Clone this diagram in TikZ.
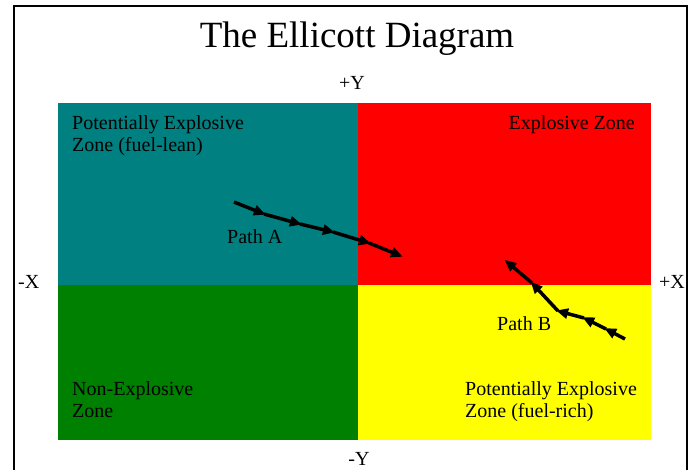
\documentclass[tikz,border=0pt]{standalone}
\usepackage{fontspec}
\setmainfont{Liberation Serif}
\usetikzlibrary{arrows.meta}
\definecolor{teal}{HTML}{008080}
\definecolor{zred}{HTML}{FF0000}
\definecolor{zgreen}{HTML}{008000}
\definecolor{zyellow}{HTML}{FFFF00}
\tikzset{
  lbl/.style={inner sep=0pt, font=\fontsize{20}{23}\selectfont, align=left},
  axis/.style={inner sep=0pt, font=\fontsize{20}{23}\selectfont},
  pathseg/.style={line width=3.5pt, -{Triangle[length=12pt,width=10pt]}, shorten >=-2pt},
}
\begin{document}
\begin{tikzpicture}[x=1pt,y=-1pt]
\useasboundingbox (0,0) rectangle (693,470);
% frame
\draw[line width=2.5pt] (14,472) -- (14,6) -- (687,6) -- (687,472);
% quadrants
\fill[teal] (58,103) rectangle (358,285);
\fill[zred] (358,103) rectangle (651,285);
\fill[zgreen] (58,285) rectangle (358,440);
\fill[zyellow] (358,285) rectangle (651,440);
% title
\node[inner sep=0pt, font=\fontsize{37}{40}\selectfont, anchor=base] (title) at (357,48) {The Ellicott Diagram};
% axes labels
\node[axis, anchor=base] (py) at (352,90) {+Y};
\node[axis, anchor=base] (my) at (359,465) {-Y};
\node[axis, anchor=base west] (mx) at (18,288) {-X};
\node[axis, anchor=base west] (px) at (659,288) {+X};
% zone labels
\node[lbl, anchor=base west] (pel1) at (72,130) {Potentially Explosive};
\node[lbl, anchor=base west] (pel2) at (72,152) {Zone (fuel-lean)};
\node[lbl, anchor=base east] (ez) at (635,130) {Explosive Zone};
\node[lbl, anchor=base west] (ne1) at (72,395) {Non-Explosive};
\node[lbl, anchor=base west] (ne2) at (72,417) {Zone};
\node[lbl, anchor=base west] (per1) at (465,395) {Potentially Explosive};
\node[lbl, anchor=base west] (per2) at (465,417) {Zone (fuel-rich)};
% paths
\node[lbl, anchor=base west] (pa) at (227,244) {Path A};
\node[lbl, anchor=base west] (pb) at (497,330) {Path B};
\coordinate (a0) at (234,202);
\coordinate (a1) at (264,214);
\coordinate (a2) at (300,224);
\coordinate (a3) at (333,232);
\coordinate (a4) at (369,243);
\coordinate (a5) at (401,256);
\coordinate (b0) at (625,339);
\coordinate (b1) at (606,329);
\coordinate (b2) at (584,318);
\coordinate (b3) at (558,311);
\coordinate (b4) at (532,283);
\coordinate (b5) at (506,261);
\draw[pathseg] (a0) -- (a1);
\draw[pathseg] (a1) -- (a2);
\draw[pathseg] (a2) -- (a3);
\draw[pathseg] (a3) -- (a4);
\draw[pathseg] (a4) -- (a5);
\draw[pathseg] (b0) -- (b1);
\draw[pathseg] (b1) -- (b2);
\draw[pathseg] (b2) -- (b3);
\draw[pathseg] (b3) -- (b4);
\draw[pathseg] (b4) -- (b5);
\end{tikzpicture}
\end{document}
